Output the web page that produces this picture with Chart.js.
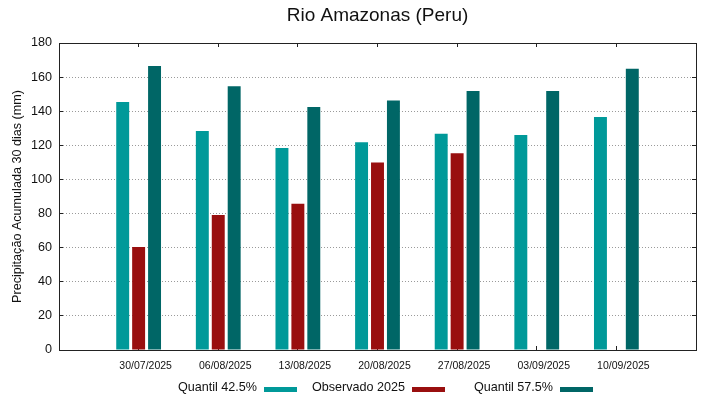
<!DOCTYPE html>
<html>
<head>
<meta charset="utf-8">
<script src="https://cdn.jsdelivr.net/npm/chart.js@4.4.0/dist/chart.umd.min.js"></script>
<style>
  html, body { margin: 0; padding: 0; background: #fff; }
  #wrap { width: 719px; height: 399px; }
</style>
</head>
<body>
<div id="wrap"><canvas id="chart" width="719" height="399"></canvas></div>
<script>
const chartTitle = 'Rio Amazonas (Peru)';
const yTitle = 'Precipitação Acumulada 30 dias (mm)';
const dates = ['30/07/2025', '06/08/2025', '13/08/2025', '20/08/2025', '27/08/2025', '03/09/2025', '10/09/2025'];
const quantil425 = [145.4, 128.4, 118.4, 121.8, 126.8, 126.1, 136.6];
const observado = [60.4, 79.2, 85.8, 109.9, 115.3, null, null];
const quantil575 = [166.5, 154.6, 142.5, 146.3, 151.9, 151.9, 164.9];
const yTicks = [0, 20, 40, 60, 80, 100, 120, 140, 160, 180];

const FONT = '"Liberation Sans", Arial, sans-serif';
const AXIS = '#222';

function points(values) {
  return values.map((v, i) => ({ x: i, y: v }));
}

// titulo centrado sobre a area do grafico e legenda no estilo gnuplot (texto antes da amostra)
const gnuplotDecor = {
  id: 'gnuplotDecor',
  afterDraw(chart) {
    const ctx = chart.ctx;
    const area = chart.chartArea;
    ctx.save();
    ctx.fillStyle = '#111';
    ctx.font = '19px ' + FONT;
    ctx.textAlign = 'center';
    ctx.textBaseline = 'middle';
    ctx.fillText(chartTitle, (area.left + area.right) / 2, 16);

    ctx.font = '12.6px ' + FONT;
    ctx.textAlign = 'right';
    chart.data.datasets.forEach((ds, i) => {
      const x = 264 + i * 148;
      ctx.fillStyle = '#111';
      ctx.fillText(ds.label, x - 7, 388);
      ctx.fillStyle = ds.backgroundColor;
      ctx.fillRect(x, 387, 33, 5);
    });
    ctx.restore();
  }
};

const ctx = document.getElementById('chart').getContext('2d');

new Chart(ctx, {
  type: 'bar',
  data: {
    datasets: [
      { label: 'Quantil 42.5%', data: points(quantil425), backgroundColor: '#009999' },
      { label: 'Observado 2025', data: points(observado), backgroundColor: '#990f0f' },
      { label: 'Quantil 57.5%', data: points(quantil575), backgroundColor: '#006666' }
    ]
  },
  options: {
    responsive: false,
    animation: false,
    devicePixelRatio: 1,
    categoryPercentage: 0.6,
    barPercentage: 0.8125,
    layout: { padding: { left: 0, right: 23, top: 43, bottom: 0 } },
    plugins: {
      legend: { display: false },
      title: { display: false },
      tooltip: { enabled: false }
    },
    scales: {
      x: {
        type: 'linear',
        position: 'bottom',
        min: -1,
        max: 7,
        offset: false,
        afterBuildTicks: s => { s.ticks = dates.map((d, i) => ({ value: i })); },
        afterFit: s => { s.height = 49; },
        ticks: {
          autoSkip: false,
          maxRotation: 0,
          padding: 14,
          labelOffset: 7,
          color: '#111',
          font: { family: FONT, size: 10.5 },
          callback: v => dates[v]
        },
        grid: { drawOnChartArea: false, offset: false, tickLength: -4, tickColor: AXIS },
        border: { display: true, color: AXIS, width: 1 }
      },
      x2: {
        type: 'linear',
        position: 'top',
        min: -1,
        max: 7,
        offset: false,
        afterBuildTicks: s => { s.ticks = dates.map((d, i) => ({ value: i })); },
        afterFit: s => { s.height = 0; },
        ticks: { display: false },
        grid: { drawOnChartArea: false, offset: false, tickLength: -4, tickColor: AXIS },
        border: { display: true, color: AXIS, width: 1 }
      },
      y: {
        position: 'left',
        min: 0,
        max: 180,
        afterBuildTicks: s => { s.ticks = yTicks.map(v => ({ value: v })); },
        afterFit: s => { s.width = 59; },
        ticks: {
          padding: 11,
          color: '#111',
          font: { family: FONT, size: 12.6 }
        },
        grid: {
          color: c => (c.tick && (c.tick.value === 0 || c.tick.value === 180)) ? 'rgba(0,0,0,0)' : '#9a9a9a',
          lineWidth: 1,
          tickLength: -4,
          tickColor: AXIS
        },
        border: { display: true, color: AXIS, width: 1, dash: [1, 2] },
        title: {
          display: true,
          text: yTitle,
          color: '#111',
          padding: { top: 10, bottom: 0 },
          font: { family: FONT, size: 12.6 }
        }
      },
      y2: {
        position: 'right',
        min: 0,
        max: 180,
        afterBuildTicks: s => { s.ticks = yTicks.map(v => ({ value: v })); },
        afterFit: s => { s.width = 0; },
        ticks: { display: false },
        grid: { drawOnChartArea: false, tickLength: -4, tickColor: AXIS },
        border: { display: true, color: AXIS, width: 1 }
      }
    }
  },
  plugins: [gnuplotDecor]
});
</script>
</body>
</html>
